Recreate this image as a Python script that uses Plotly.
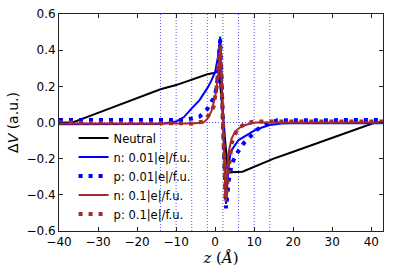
import plotly.graph_objects as go

# ---- data ----
z_neutral = [-40, -36.5, -30, -25, -20, -14, -10, -6, -2, 0, 1.0, 3.3, 4, 7, 10, 15, 20, 25, 30, 35, 40, 41, 43]
v_neutral = [0.0, 0.0, 0.053, 0.094, 0.135, 0.184, 0.207, 0.239, 0.267, 0.275, 0.285, -0.28, -0.275, -0.272,
             -0.245, -0.2, -0.162, -0.124, -0.085, -0.047, -0.008, 0.0, 0.0]

z_n001 = [-40, -30, -20, -14, -10, -8, -6, -4, -2, -1, 0, 0.7, 1.3, 2.0, 2.8, 3.4, 4, 6, 8, 10, 12, 14, 17, 20, 30, 43]
v_n001 = [-0.01, -0.01, -0.01, -0.008, 0.005, 0.03, 0.078, 0.124, 0.19, 0.23, 0.28, 0.36, 0.475, 0.0, -0.45,
          -0.25, -0.16, -0.097, -0.07, -0.045, -0.028, -0.014, -0.006, -0.004, -0.004, -0.004]

z_p001 = [-40, -20, -8, -6, -4, -2, -1, 0, 0.7, 1.3, 2.0, 2.8, 3.5, 4.3, 5.6, 7.3, 9, 10.7, 12, 14, 16, 43]
v_p001 = [0.014, 0.014, 0.014, 0.022, 0.032, 0.075, 0.11, 0.15, 0.25, 0.46, 0.0, -0.475, -0.32, -0.226, -0.17,
          -0.115, -0.078, -0.04, -0.02, 0.0, 0.012, 0.014]

z_n01 = [-40, -20, -10, -6, -3, -2, -1, 0, 0.7, 1.4, 2.0, 2.7, 3.4, 4.2, 5.1, 6.5, 7.7, 10.3, 20, 43]
v_n01 = [-0.005, -0.005, -0.005, -0.005, 0.0, 0.02, 0.06, 0.14, 0.25, 0.43, 0.0, -0.44, -0.17, -0.09, -0.05,
         -0.025, -0.014, 0.0, 0.0, 0.0]

z_p01 = [-40, -20, -10, -6, -3, -1.3, -0.4, 0.4, 1.3, 2.0, 2.7, 3.5, 4.3, 5.6, 7.7, 10, 20, 43]
v_p01 = [0.0, 0.0, -0.003, -0.005, 0.005, 0.05, 0.087, 0.2, 0.42, 0.0, -0.42, -0.25, -0.11, -0.04, -0.005,
         0.005, 0.005, 0.005]

vlines = [-14, -10, -6, -2, 2, 6, 10, 14]

x_ticks = [-40, -30, -20, -10, 0, 10, 20, 30, 40]
y_ticks = [-0.6, -0.4, -0.2, 0.0, 0.2, 0.4, 0.6]

BLUE = "#0000ff"
BROWN = "#a52a2a"

fig = go.Figure()

# reference lines
for xv in vlines:
    col = "#3d6b6b" if xv == 2 else "rgba(60,60,255,0.85)"
    fig.add_shape(type="line", x0=xv, x1=xv, y0=-0.6, y1=0.6, xref="x", yref="y",
                  line=dict(color=col, width=1, dash="1px,2px"), layer="below")
fig.add_shape(type="line", x0=-40, x1=43, y0=0, y1=0, xref="x", yref="y",
              line=dict(color="rgba(60,60,255,0.85)", width=1, dash="1px,2px"), layer="below")

fig.add_trace(go.Scatter(x=z_neutral, y=v_neutral, mode="lines", name="Neutral",
                         line=dict(color="black", width=2)))
fig.add_trace(go.Scatter(x=z_n001, y=v_n001, mode="lines", name="n: 0.01|e|/f.u.",
                         line=dict(color=BLUE, width=2)))
fig.add_trace(go.Scatter(x=z_p001, y=v_p001, mode="lines", name="p: 0.01|e|/f.u.",
                         line=dict(color=BLUE, width=4, dash="4px,6px")))
fig.add_trace(go.Scatter(x=z_n01, y=v_n01, mode="lines", name="n: 0.1|e|/f.u.",
                         line=dict(color=BROWN, width=2)))
fig.add_trace(go.Scatter(x=z_p01, y=v_p01, mode="lines", name="p: 0.1|e|/f.u.",
                         line=dict(color=BROWN, width=4, dash="4px,6px")))

axis_common = dict(showline=True, linecolor="#222", linewidth=1, mirror="ticks",
                   ticks="inside", ticklen=4, tickcolor="#222", showgrid=False, zeroline=False,
                   automargin=False,
                   tickfont=dict(family="DejaVu Sans", size=12, color="black"))

fig.update_xaxes(range=[-40, 43], tickvals=x_ticks, ticktext=[str(t).replace("-", "\u2212") for t in x_ticks],
                 title=dict(text="<i>z</i> (<i>Å</i>)", font=dict(family="DejaVu Serif", size=15, color="black"),
                            standoff=4),
                 **axis_common)
fig.update_yaxes(range=[-0.6, 0.6], tickvals=y_ticks,
                 ticktext=[f"{t:.1f}".replace("-", "\u2212") for t in y_ticks],
                 title=dict(text="Δ<i>V</i> (a.u.)", font=dict(family="DejaVu Sans", size=14, color="black"),
                            standoff=4),
                 **axis_common)

fig.update_layout(
    width=395, height=273,
    margin=dict(l=59, r=12, t=14, b=42),
    plot_bgcolor="white", paper_bgcolor="white",
    showlegend=True,
    legend=dict(x=0.045, y=0.495, xanchor="left", yanchor="top", bgcolor="rgba(0,0,0,0)",
                font=dict(family="DejaVu Sans", size=11.5, color="black"),
                tracegroupgap=0, itemwidth=30),
)

fig.write_html("out.html", config={"displayModeBar": False},
               post_script="document.body.style.margin='0';document.body.style.overflow='hidden';")
